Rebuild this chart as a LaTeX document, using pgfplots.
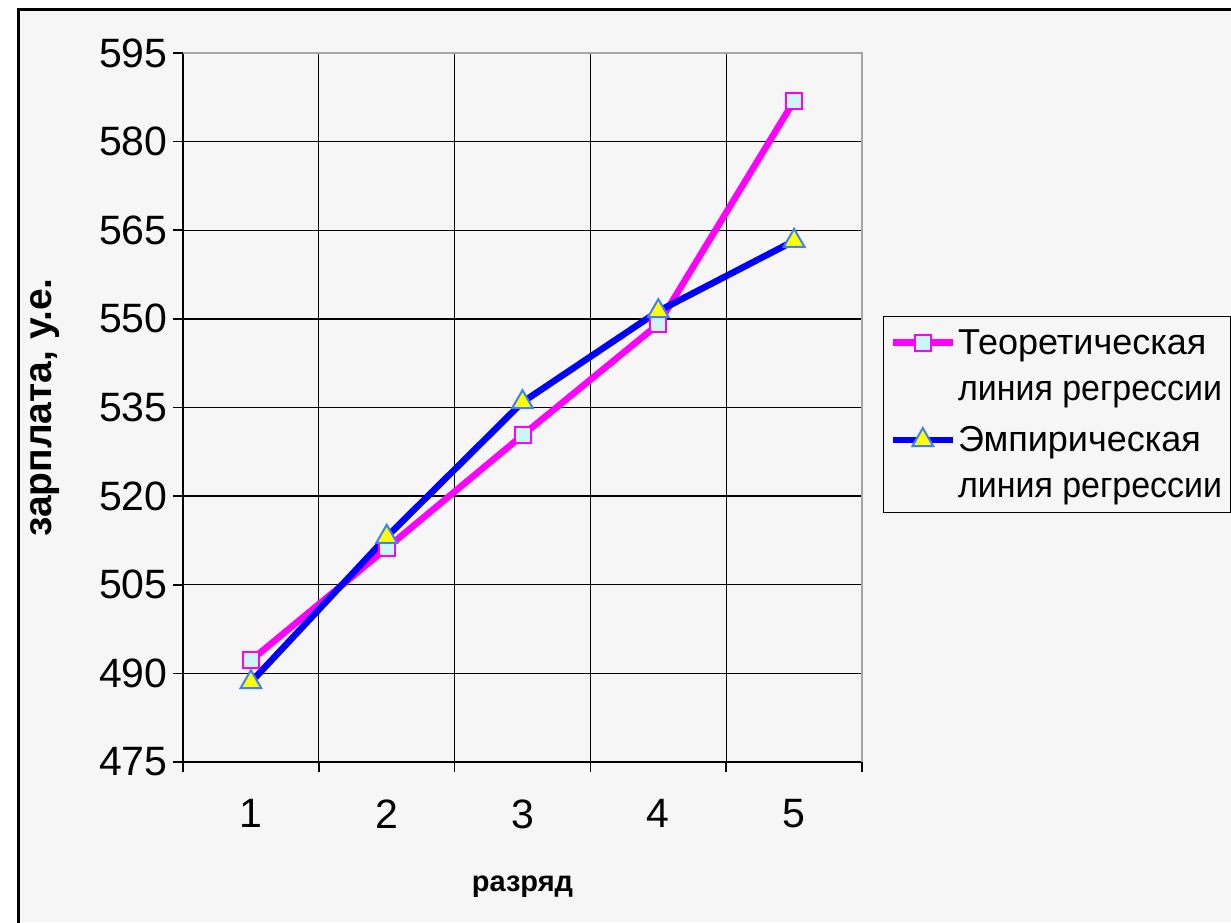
\documentclass[border=0pt]{standalone}
\usepackage{graphicx}
\usepackage{pgfplots}
\pgfplotsset{compat=1.18}
\usepackage{fontspec}
\setmainfont{Liberation Sans}
\definecolor{bgcol}{HTML}{F6F6F6}
\definecolor{sqfill}{HTML}{CCF5F5}
\definecolor{triedge}{HTML}{3F7FFF}
\definecolor{mag}{HTML}{FF00FF}
\definecolor{blu}{HTML}{0000FF}
\definecolor{yel}{HTML}{FFFF00}
\begin{document}
\begin{tikzpicture}
\useasboundingbox (0pt,0pt) rectangle (1231pt,922pt);
\fill[white] (0pt,0pt) rectangle (1231pt,922pt);
\fill[bgcol] (18pt,0pt) rectangle (1231pt,912pt);
\draw[line width=3pt] (18pt,-2pt) -- (18pt,912pt) -- (1233pt,912pt);
\begin{axis}[
  at={(183pt,160pt)}, anchor=south west,
  scale only axis, width=679pt, height=709pt,
  xmin=0.5, xmax=5.5, ymin=475, ymax=595,
  xtick={1,2,3,4,5},
  minor xtick={0.5,1.5,2.5,3.5,4.5,5.5},
  ytick={475,490,505,520,535,550,565,580,595},
  ymajorgrids, xminorgrids,
  major grid style={black, line width=1.3pt},
  minor grid style={black, line width=1.3pt},
  axis line style={black, line width=1.5pt},
  tick align=outside, tick pos=left,
  major tick length=10pt, minor tick length=10pt,
  major x tick style={draw=none},
  minor x tick style={black, line width=1.5pt},
  ytick style={black, line width=1.5pt},
  /pgf/number format/assume math mode=true,
  ticklabel style={font=\fontsize{41}{46}\selectfont},
  yticklabel style={xshift=-2pt},
  xticklabel style={yshift=-24pt},
  axis background/.style={fill=bgcol},
  ylabel={\bfseries зарплата, у.е.},
  ylabel style={font=\fontsize{39}{44}\selectfont, yshift=33pt},
  xlabel={\bfseries разряд},
  xlabel style={font=\fontsize{29}{34}\selectfont, yshift=-40pt},
  legend style={at={(1.031,0.629)}, anchor=north west, draw=black, line width=1pt, fill=bgcol,
    font=\fontsize{36}{46}\selectfont, nodes={align=left}, inner xsep=6pt, inner ysep=11pt, row sep=21pt},
  legend cell align=left,
  legend image code/.code={\draw[yshift=23pt,mark repeat=2,mark phase=2] plot coordinates {(0pt,0pt) (30pt,0pt) (60pt,0pt)};},
  clip=false,
]
\addplot[color=mag, line width=6.5pt, mark=square*, mark size=8pt,
  mark options={fill=sqfill, draw=mag, line width=2pt}]
  coordinates {(1,492.2) (2,511.2) (3,530.3) (4,549.1) (5,586.9)};
\addlegendentry{Теоретическая\\\resizebox{264pt}{\height}{линия регрессии}}
\addplot[color=blu, line width=6.5pt, mark=triangle*, mark size=12pt,
  mark options={fill=yel, draw=triedge, line width=2pt}]
  coordinates {(1,488.5) (2,513.1) (3,535.9) (4,551.3) (5,563.2)};
\addlegendentry{Эмпирическая\\\resizebox{264pt}{\height}{линия регрессии}}
\end{axis}
\draw[gray!70, line width=1.5pt] (183pt,869pt) -- (862pt,869pt) -- (862pt,160pt);
\end{tikzpicture}
\end{document}
